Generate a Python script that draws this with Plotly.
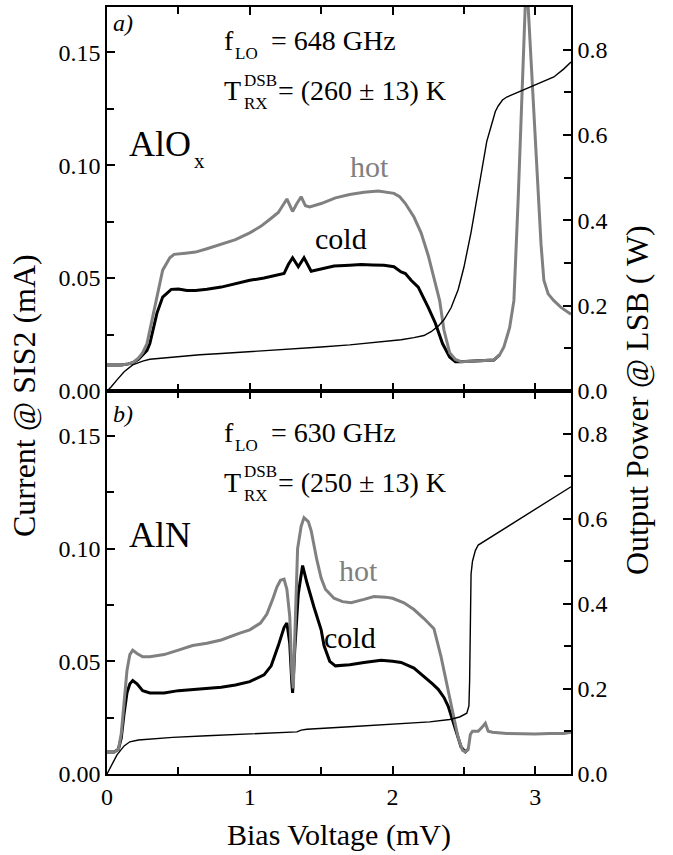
import plotly.graph_objects as go

# ---------------- data: panel a) AlOx, f_LO = 648 GHz ----------------
a_hot_x = [0, 0.1, 0.15, 0.18, 0.22, 0.25, 0.28, 0.30, 0.33, 0.35, 0.39, 0.44, 0.47, 0.55, 0.62, 0.7, 0.8, 0.9,
           1.0, 1.08, 1.15, 1.2, 1.26, 1.30, 1.33, 1.36, 1.39, 1.42, 1.5, 1.6, 1.7, 1.8, 1.9, 1.96, 2.01, 2.05,
           2.09, 2.15, 2.2, 2.25, 2.3, 2.33, 2.36, 2.40, 2.44, 2.48, 2.55, 2.62, 2.68, 2.71, 2.75, 2.78, 2.82,
           2.85, 2.88, 2.90, 2.92, 2.935, 2.95, 2.96, 2.99, 3.02, 3.04, 3.06, 3.09, 3.13, 3.18, 3.25]
a_hot_y = [0.0115, 0.0115, 0.012, 0.0125, 0.0145, 0.017, 0.021, 0.027, 0.036, 0.0416, 0.0535, 0.059, 0.0605,
           0.061, 0.0615, 0.063, 0.065, 0.067, 0.070, 0.073, 0.0765, 0.079, 0.085, 0.0795, 0.083, 0.086, 0.082,
           0.0815, 0.083, 0.0855, 0.087, 0.088, 0.0885, 0.088, 0.0875, 0.086, 0.083, 0.077, 0.070, 0.060, 0.048,
           0.040, 0.027, 0.017, 0.014, 0.013, 0.0132, 0.0134, 0.0137, 0.0137, 0.016, 0.0195, 0.028, 0.040, 0.085,
           0.125, 0.165, 0.180, 0.170, 0.158, 0.120, 0.085, 0.065, 0.049, 0.043, 0.040, 0.037, 0.034]

a_cold_x = [0, 0.1, 0.15, 0.18, 0.22, 0.25, 0.28, 0.30, 0.33, 0.35, 0.39, 0.45, 0.5, 0.56, 0.62, 0.7, 0.8, 0.9,
            1.0, 1.1, 1.2, 1.24, 1.27, 1.30, 1.34, 1.38, 1.43, 1.5, 1.59, 1.7, 1.78, 1.86, 1.94, 2.01, 2.06,
            2.09, 2.13, 2.18, 2.22, 2.25, 2.30, 2.35, 2.40, 2.44, 2.47, 2.55, 2.62, 2.68, 2.71, 2.75]
a_cold_y = [0.0115, 0.0115, 0.012, 0.0125, 0.014, 0.016, 0.018, 0.021, 0.029, 0.0345, 0.0416, 0.045, 0.0452,
            0.0445, 0.0445, 0.045, 0.046, 0.0475, 0.049, 0.050, 0.0512, 0.052, 0.056, 0.059, 0.055, 0.059, 0.053,
            0.054, 0.0553, 0.0557, 0.056, 0.0558, 0.0557, 0.055, 0.0527, 0.052, 0.049, 0.046, 0.041, 0.037,
            0.030, 0.021, 0.015, 0.013, 0.013, 0.0132, 0.0134, 0.0137, 0.0137, 0.016]

a_pow_x = [0, 0.03, 0.07, 0.12, 0.18, 0.25, 0.30, 0.4, 0.5, 0.65, 0.8, 1.0, 1.2, 1.35, 1.5, 1.7, 1.92, 2.06, 2.15,
           2.22, 2.27, 2.32, 2.36, 2.41, 2.46, 2.50, 2.55, 2.59, 2.63, 2.66, 2.69, 2.72, 2.74, 2.77, 2.80, 2.88,
           2.97, 3.05, 3.13, 3.2, 3.25]
a_pow_y = [0, 0.01, 0.026, 0.045, 0.061, 0.070, 0.0745, 0.078, 0.080, 0.085, 0.088, 0.092, 0.096, 0.099, 0.103,
           0.108, 0.115, 0.120, 0.125, 0.130, 0.139, 0.152, 0.167, 0.195, 0.238, 0.29, 0.372, 0.45, 0.527, 0.585,
           0.62, 0.655, 0.668, 0.682, 0.689, 0.700, 0.713, 0.724, 0.736, 0.755, 0.771]

# ---------------- data: panel b) AlN, f_LO = 630 GHz ----------------
b_hot_x = [0, 0.05, 0.08, 0.10, 0.12, 0.14, 0.16, 0.18, 0.21, 0.25, 0.30, 0.4, 0.5, 0.6, 0.7, 0.8, 0.93, 1.0,
           1.075, 1.12, 1.16, 1.19, 1.215, 1.24, 1.26, 1.28, 1.295, 1.305, 1.315, 1.335, 1.36, 1.38, 1.41, 1.43,
           1.47, 1.50, 1.53, 1.59, 1.65, 1.71, 1.8, 1.87, 1.95, 2.0, 2.08, 2.15, 2.22, 2.29, 2.34, 2.37, 2.40,
           2.43, 2.46, 2.49, 2.51, 2.53, 2.545, 2.56, 2.60, 2.63, 2.65, 2.67, 2.70, 2.8, 2.9, 3.0, 3.1, 3.2, 3.25]
b_hot_y = [0.0098, 0.0098, 0.011, 0.018, 0.032, 0.046, 0.053, 0.055, 0.0535, 0.052, 0.052, 0.053, 0.055, 0.057,
           0.058, 0.0595, 0.0625, 0.064, 0.067, 0.071, 0.0775, 0.083, 0.086, 0.0865, 0.082, 0.070, 0.045, 0.038,
           0.060, 0.100, 0.110, 0.1138, 0.112, 0.108, 0.095, 0.087, 0.082, 0.078, 0.0765, 0.076, 0.0775, 0.0788,
           0.0785, 0.078, 0.076, 0.073, 0.069, 0.0645, 0.052, 0.043, 0.034, 0.0257, 0.016, 0.0105, 0.0098, 0.011,
           0.0175, 0.019, 0.019, 0.021, 0.0225, 0.019, 0.0185, 0.018, 0.0178, 0.0178, 0.018, 0.018, 0.0185]

b_cold_x = [0, 0.05, 0.08, 0.10, 0.12, 0.14, 0.16, 0.18, 0.21, 0.25, 0.30, 0.4, 0.5, 0.6, 0.7, 0.8, 0.9, 1.0,
            1.1, 1.15, 1.2, 1.24, 1.26, 1.28, 1.295, 1.30, 1.315, 1.34, 1.37, 1.40, 1.45, 1.50, 1.52, 1.56, 1.6,
            1.7, 1.8, 1.92, 2.0, 2.06, 2.15, 2.22, 2.28, 2.32, 2.36, 2.39, 2.42, 2.45, 2.48, 2.51, 2.53]
b_cold_y = [0.0098, 0.0098, 0.011, 0.016, 0.027, 0.036, 0.040, 0.0415, 0.040, 0.037, 0.036, 0.036, 0.037, 0.0375,
            0.038, 0.0385, 0.0395, 0.041, 0.044, 0.048, 0.057, 0.065, 0.067, 0.058, 0.040, 0.036, 0.055, 0.080,
            0.0925, 0.085, 0.074, 0.064, 0.057, 0.050, 0.048, 0.0485, 0.0495, 0.0505, 0.050, 0.0495, 0.047,
            0.0434, 0.040, 0.0376, 0.034, 0.030, 0.024, 0.018, 0.012, 0.0098, 0.011]

b_pow_x = [0, 0.03, 0.07, 0.12, 0.16, 0.22, 0.3, 0.46, 0.7, 1.0, 1.2, 1.33, 1.36, 1.4, 1.7, 2.0, 2.26, 2.40,
           2.47, 2.52, 2.535, 2.54, 2.545, 2.55, 2.56, 2.58, 2.6, 2.8, 3.0, 3.25]
b_pow_y = [0, 0.02, 0.045, 0.066, 0.0757, 0.080, 0.082, 0.086, 0.090, 0.094, 0.097, 0.099, 0.103, 0.105, 0.111,
           0.117, 0.1226, 0.128, 0.134, 0.143, 0.16, 0.22, 0.35, 0.47, 0.50, 0.525, 0.538, 0.58, 0.621, 0.675]

# axis ranges
x_range = [0, 3.25]
cur_range = [0, 0.17]
pow_range = [0, 0.9]

# ---------------- layout geometry (pixels of a 673 x 855 page) ----------------
W, H = 673, 855
PL, PR = 107, 571          # plot area left / right
PT, PM, PB = 7, 391, 774   # top, panel boundary, bottom

def px(x):
    return x / W

def py(y):
    return 1 - y / H

FONT = "Liberation Serif"
GRAY = "#808080"
TICKF = 24

fig = go.Figure()

def add(x, y, xa, ya, color, width):
    fig.add_trace(go.Scatter(x=x, y=y, mode="lines", xaxis=xa, yaxis=ya,
                             line=dict(color=color, width=width), showlegend=False,
                             hoverinfo="skip"))

# top panel (x2, y3 / y4)
add(a_pow_x, a_pow_y, "x2", "y4", "black", 1.4)
add(a_cold_x, a_cold_y, "x2", "y3", "black", 3)
add(a_hot_x, a_hot_y, "x2", "y3", GRAY, 3)
# bottom panel (x, y / y2)
add(b_pow_x, b_pow_y, "x", "y2", "black", 1.4)
add(b_cold_x, b_cold_y, "x", "y", "black", 3)
add(b_hot_x, b_hot_y, "x", "y", GRAY, 3)

common_ax = dict(showline=True, linecolor="black", linewidth=1.6, ticks="inside", ticklen=8,
                 tickwidth=1.5, tickcolor="black", showgrid=False, zeroline=False,
                 tickfont=dict(family=FONT, size=TICKF, color="black"), automargin=False)

xdom = [px(PL), px(PR)]
bot_dom = [py(PB), py(PM)]
top_dom = [py(PM), py(PT)]

minor_x = dict(dtick=0.5, ticks="inside", ticklen=7, tickwidth=1.5, tickcolor="black")
minor_c = dict(dtick=0.025, ticks="inside", ticklen=7, tickwidth=1.5, tickcolor="black")
minor_p = dict(dtick=0.1, ticks="inside", ticklen=7, tickwidth=1.5, tickcolor="black")

fig.update_layout(
    width=W, height=H, margin=dict(l=0, r=0, t=0, b=0),
    paper_bgcolor="white", plot_bgcolor="white",
    font=dict(family=FONT, color="black"),
    xaxis=dict(domain=xdom, anchor="y", range=x_range, tick0=0, dtick=1, mirror="ticks",
               minor=minor_x, **common_ax),
    xaxis2=dict(domain=xdom, anchor="y3", range=x_range, tick0=0, dtick=1, mirror="ticks",
                minor=minor_x, showticklabels=False, **common_ax),
    yaxis=dict(domain=bot_dom, anchor="x", range=cur_range, tick0=0, dtick=0.05, tickformat=".2f",
               minor=minor_c, **common_ax),
    yaxis2=dict(overlaying="y", side="right", anchor="x", range=pow_range, tick0=0, dtick=0.2,
                tickformat=".1f", minor=minor_p, **common_ax),
    yaxis3=dict(domain=top_dom, anchor="x2", range=cur_range, tick0=0, dtick=0.05, tickformat=".2f",
                minor=minor_c, **common_ax),
    yaxis4=dict(overlaying="y3", side="right", anchor="x2", range=pow_range, tick0=0, dtick=0.2,
                tickformat=".1f", minor=minor_p, **common_ax),
)

def note(text, x, y, size, color="black", xanchor="left", angle=0):
    fig.add_annotation(text=text, x=px(x), y=py(y), xref="paper", yref="paper",
                       xanchor=xanchor, yanchor="middle", showarrow=False, textangle=angle,
                       font=dict(family=FONT, size=size, color=color))

# axis titles
note("Bias Voltage (mV)", 339, 835, 30, xanchor="center")
note("Current @ SIS2 (mA)", 24, 396, 32, xanchor="center", angle=-90)
note("Output Power @ LSB ( W)", 637, 400, 32, xanchor="center", angle=-90)

# panel labels and receiver data (dy = vertical offset of the panel)
def panel(dy, tag, flo, trx, mat, hot_xy, cold_xy):
    note("<i>" + tag + "</i>", 111, 23 + dy, 24)
    note("f", 222, 41 + dy, 28)
    note("LO", 233, 54 + dy, 17)
    note("= " + flo + " GHz", 269, 41 + dy, 28)
    note("T", 222, 91 + dy, 28)
    note("DSB", 242, 80 + dy, 17)
    note("RX", 242, 104 + dy, 17)
    note("= (" + trx + " ± 13) K", 276, 91 + dy, 28)
    note(mat[0], 127, 144 + dy, 36)
    if mat[1]:
        note(mat[1], 192, 161 + dy, 21)
    note("hot", hot_xy[0], hot_xy[1], 30, color=GRAY)
    note("cold", cold_xy[0], cold_xy[1], 30)

panel(0, "a)", "648", "260", ("AlO", "x"), (348, 167), (313, 238))
panel(391, "b)", "630", "250", ("AlN", ""), (337, 570), (322, 637))

fig.write_html("out.html")
